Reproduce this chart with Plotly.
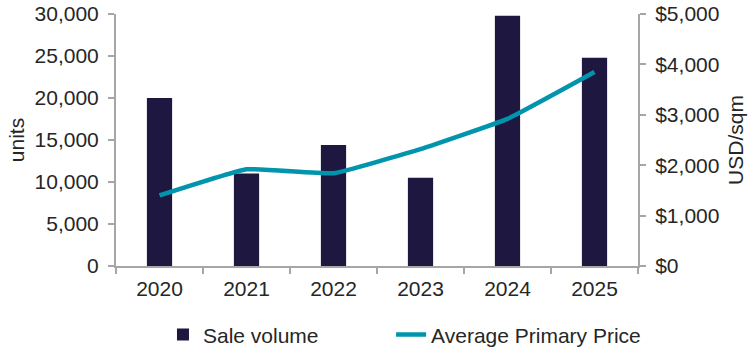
import plotly.graph_objects as go

years = ["2020", "2021", "2022", "2023", "2024", "2025"]
sale_volume = [20000, 11000, 14400, 10500, 29800, 24800]
avg_price = [1400, 1920, 1840, 2320, 2920, 3850]

BAR_COLOR = "#1E1840"
LINE_COLOR = "#0095AD"
AXIS_COLOR = "#A6A6A6"
TEXT_COLOR = "#262626"
FONT = "Liberation Sans, Arial, sans-serif"
FS = 21

fig = go.Figure()
fig.add_trace(go.Bar(
    x=years, y=sale_volume, name="Sale volume",
    marker=dict(color=BAR_COLOR, line=dict(width=0)),
    yaxis="y", legend="legend",
))
fig.add_trace(go.Scatter(
    x=years, y=avg_price, name="Average Primary Price",
    mode="lines", line=dict(color=LINE_COLOR, width=4.5, shape="spline", smoothing=0.3),
    yaxis="y2", legend="legend2",
))

leg_common = dict(orientation="h", xanchor="left", y=-0.192, yanchor="top",
                  font=dict(size=FS, color=TEXT_COLOR), bgcolor="rgba(0,0,0,0)")

fig.update_layout(
    width=753, height=361,
    margin=dict(l=116, r=115, t=14, b=95, autoexpand=False),
    plot_bgcolor="white", paper_bgcolor="white",
    font=dict(family=FONT, size=FS, color=TEXT_COLOR),
    bargap=0.71,
    showlegend=True,
    legend=dict(x=0.090, **leg_common),
    legend2=dict(x=0.527, **leg_common),
    xaxis=dict(
        type="category", showline=True, linecolor=AXIS_COLOR, linewidth=2,
        ticks="outside", ticklen=6, tickcolor=AXIS_COLOR, tickwidth=2,
        tickson="boundaries", showgrid=False, tickfont=dict(size=FS),
        automargin=False, ticklabelstandoff=3,
    ),
    yaxis=dict(
        range=[0, 30000], dtick=5000, tickformat=",d", showgrid=False,
        showline=True, linecolor=AXIS_COLOR, linewidth=2,
        ticks="outside", ticklen=6, tickcolor=AXIS_COLOR, tickwidth=2,
        title=dict(text="units", font=dict(size=FS), standoff=4),
        tickfont=dict(size=FS), zeroline=False, automargin=False,
        ticklabelstandoff=5,
    ),
    yaxis2=dict(
        overlaying="y", side="right", range=[0, 5000], dtick=1000,
        tickformat=",d", tickprefix="$", showgrid=False,
        showline=True, linecolor=AXIS_COLOR, linewidth=2,
        ticks="outside", ticklen=6, tickcolor=AXIS_COLOR, tickwidth=2,
        title=dict(text="USD/sqm", font=dict(size=FS), standoff=10),
        tickfont=dict(size=FS), zeroline=False, automargin=False,
        ticklabelstandoff=5,
    ),
)

fig.write_html("out.html", config={"displayModeBar": False},
               post_script="document.body.style.margin='0';")
